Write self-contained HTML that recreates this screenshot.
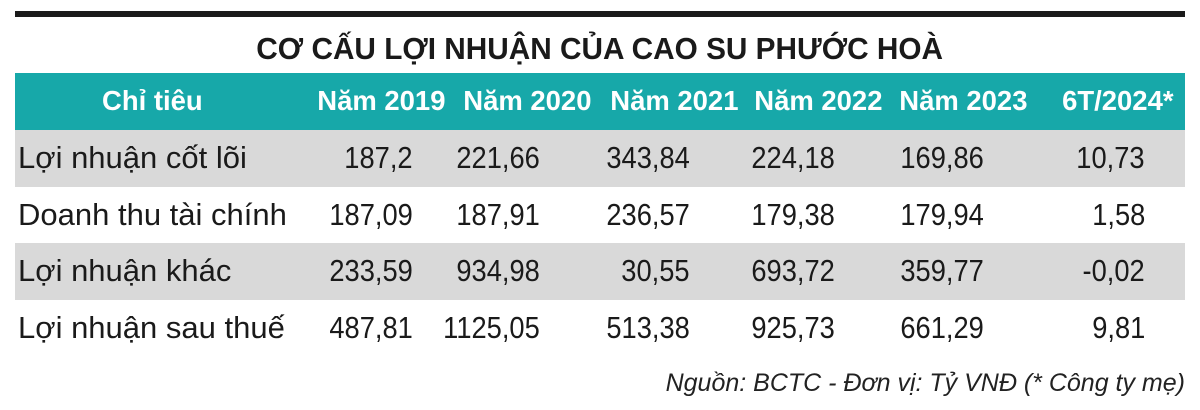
<!DOCTYPE html>
<html><head><meta charset="utf-8">
<style>
html,body{margin:0;padding:0;background:#fff;}
#wrap{position:relative;width:1200px;height:410px;overflow:hidden;font-family:"Liberation Sans","DejaVu Sans",sans-serif;}
.abs{position:absolute;white-space:nowrap;}
.t{display:inline-block;}
</style></head>
<body>
<div id="wrap">
  <div class="abs" style="left:15px;top:11px;width:1170px;height:6px;background:#1a1a1a"></div>
  <div class="abs" style="left:0;width:1200px;top:29px;text-align:center;font-weight:bold;font-size:31px;color:#1a1a1a;line-height:40px"><span class="t" style="transform:scaleX(0.96)">CƠ CẤU LỢI NHUẬN CỦA CAO SU PHƯỚC HOÀ</span></div>
  <div class="abs" style="left:15px;top:73px;width:1170px;height:57px;background:#17a8a9"></div>
  <div class="abs" style="left:15px;top:130px;width:1170px;height:57px;background:#d9d9d9"></div>
  <div class="abs" style="left:15px;top:243px;width:1170px;height:57px;background:#d9d9d9"></div>
  <div class="abs" style="right:15px;top:367px;font-style:italic;font-size:25px;color:#222;line-height:32px"><span class="t" style="transform:scaleX(1.0);transform-origin:right center">Nguồn: BCTC - Đơn vị: Tỷ VNĐ (* Công ty mẹ)</span></div>
</div>
<script>
const headers = ["Chỉ tiêu","Năm 2019","Năm 2020","Năm 2021","Năm 2022","Năm 2023","6T/2024*"];
const rowLabels = ["Lợi nhuận cốt lõi","Doanh thu tài chính","Lợi nhuận khác","Lợi nhuận sau thuế"];
const row1 = ["187,2","221,66","343,84","224,18","169,86","10,73"];
const row2 = ["187,09","187,91","236,57","179,38","179,94","1,58"];
const row3 = ["233,59","934,98","30,55","693,72","359,77","-0,02"];
const row4 = ["487,81","1125,05","513,38","925,73","661,29","9,81"];
const rows = [row1,row2,row3,row4];

const wrap = document.getElementById('wrap');
const headCenters = [152,381,527,674,818,963,1118];
const valRights = [413,540,690,835,984,1145];

headers.forEach((h,i)=>{
  const d = document.createElement('div');
  d.className='abs';
  
  
  d.style.cssText = `left:${headCenters[i]-150}px;width:300px;text-align:center;top:81px;line-height:40px;font-size:28px;font-weight:bold;color:#fff`;
  d.innerHTML = `<span class="t" style="transform:scaleX(0.98)">${h}</span>`;
  wrap.appendChild(d);
});
rowLabels.forEach((lab,r)=>{
  const top = 138 + r*56.7;
  const d = document.createElement('div');
  d.className='abs';
  
  
  d.style.cssText = `left:18px;top:${top}px;line-height:40px;font-size:31px;color:#1a1a1a`;
  d.innerHTML = `<span class="t" style="transform:scaleX(1.0);transform-origin:left center">${lab}</span>`;
  wrap.appendChild(d);
  rows[r].forEach((v,c)=>{
    const e = document.createElement('div');
    e.className='abs';
    
    
    e.style.cssText = `right:${1200-valRights[c]}px;top:${top}px;line-height:40px;font-size:31px;color:#1a1a1a`;
    e.innerHTML = `<span class="t" style="transform:scaleX(0.88);transform-origin:right center">${v}</span>`;
    wrap.appendChild(e);
  });
});
</script>
</body></html>
